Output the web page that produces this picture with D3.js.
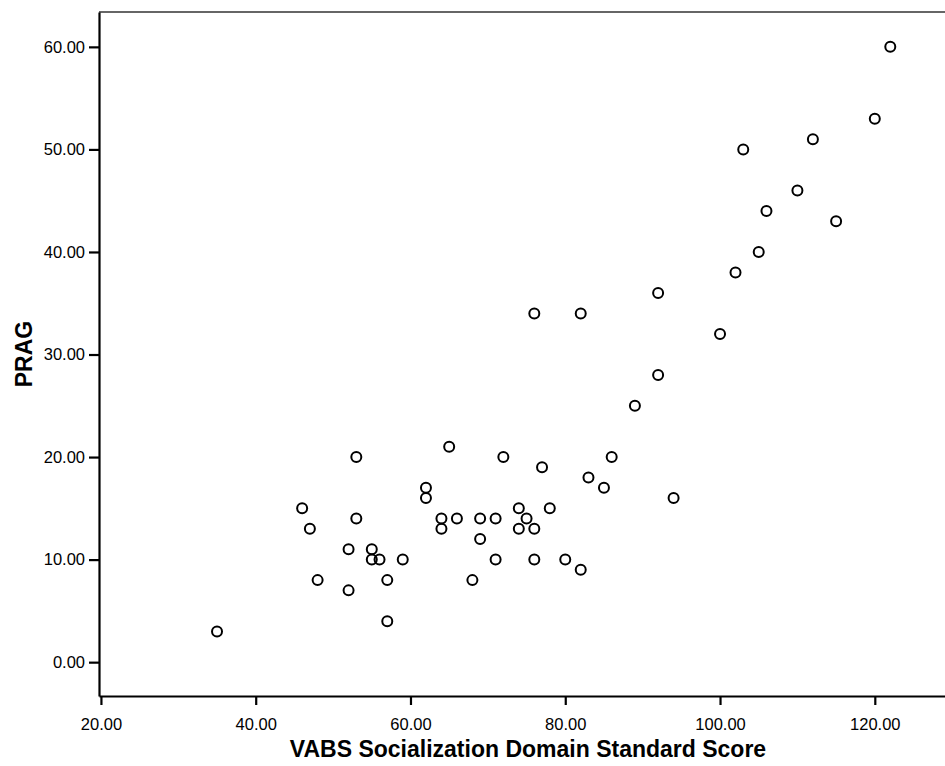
<!DOCTYPE html>
<html>
<head>
<meta charset="utf-8">
<script src="https://cdn.jsdelivr.net/npm/d3@7"></script>
<style>
  body { margin: 0; background: #fff; }
  text { font-family: "Liberation Sans", Arial, sans-serif; }
  .tick text { font-size: 16.5px; fill: #000; }
  .aTitle { font-size: 23px; font-weight: bold; fill: #000; }
</style>
</head>
<body>
<div id="scatter"></div>
<script>
// VABS socialization score vs PRAG
var vabs = [35, 46, 47, 48, 52, 52, 53, 53, 55, 55, 56, 57, 57, 59, 62, 62, 64, 64, 65, 66,
            68, 69, 69, 71, 71, 72, 74, 74, 75, 76, 76, 76, 77, 78, 80, 82, 82, 83, 85, 86,
            89, 92, 92, 94, 100, 102, 103, 105, 106, 110, 112, 115, 120, 122];
var prag = [3, 15, 13, 8, 11, 7, 20, 14, 11, 10, 10, 8, 4, 10, 17, 16, 14, 13, 21, 14,
            8, 14, 12, 14, 10, 20, 15, 13, 14, 13, 10, 34, 19, 15, 10, 9, 34, 18, 17, 20,
            25, 28, 36, 16, 32, 38, 50, 40, 44, 46, 51, 43, 53, 60];
var xTicks = [20, 40, 60, 80, 100, 120];
var yTicks = [0, 10, 20, 30, 40, 50, 60];

var width = 945, height = 766;
var plotL = 99, plotR = 946, plotT = 12, plotB = 696;

var svg = d3.select('#scatter')
    .append('svg')
    .attr('width', width)
    .attr('height', height);

var x = d3.scaleLinear().domain([19.75, 129.2]).range([plotL, plotR]);
var y = d3.scaleLinear().domain([-3.3, 63.4]).range([plotB, plotT]);

// frame (top edge, thin)
svg.append('line')
    .attr('x1', plotL).attr('x2', plotR)
    .attr('y1', plotT).attr('y2', plotT)
    .attr('stroke', '#333').attr('stroke-width', 1.3);

var xAxis = svg.append('g')
    .attr('transform', `translate(0,${plotB})`)
    .call(d3.axisBottom(x).tickValues(xTicks).tickFormat(d3.format('.2f'))
        .tickSize(9).tickPadding(13).tickSizeOuter(0));

var yAxis = svg.append('g')
    .attr('transform', `translate(${plotL},0)`)
    .call(d3.axisLeft(y).tickValues(yTicks).tickFormat(d3.format('.2f'))
        .tickSize(10).tickPadding(4).tickSizeOuter(0));

svg.selectAll('.domain').attr('stroke', '#000').attr('stroke-width', 2.2);
svg.selectAll('.tick line').attr('stroke', '#000').attr('stroke-width', 2.2);
xAxis.attr('font-family', null).attr('font-size', null);
yAxis.attr('font-family', null).attr('font-size', null);

svg.append('text')
    .attr('class', 'aTitle')
    .attr('x', 528).attr('y', 757)
    .attr('text-anchor', 'middle')
    .text('VABS Socialization Domain Standard Score');

svg.append('text')
    .attr('class', 'aTitle')
    .attr('transform', `translate(32,${(plotT + plotB) / 2})rotate(-90)`)
    .attr('text-anchor', 'middle')
    .text('PRAG');

svg.append('g').selectAll('circle')
    .data(vabs)
    .enter()
    .append('circle')
    .attr('cx', d => x(d))
    .attr('cy', (d, i) => y(prag[i]))
    .attr('r', 5)
    .attr('fill', 'none')
    .attr('stroke', '#000')
    .attr('stroke-width', 2);
</script>
</body>
</html>
